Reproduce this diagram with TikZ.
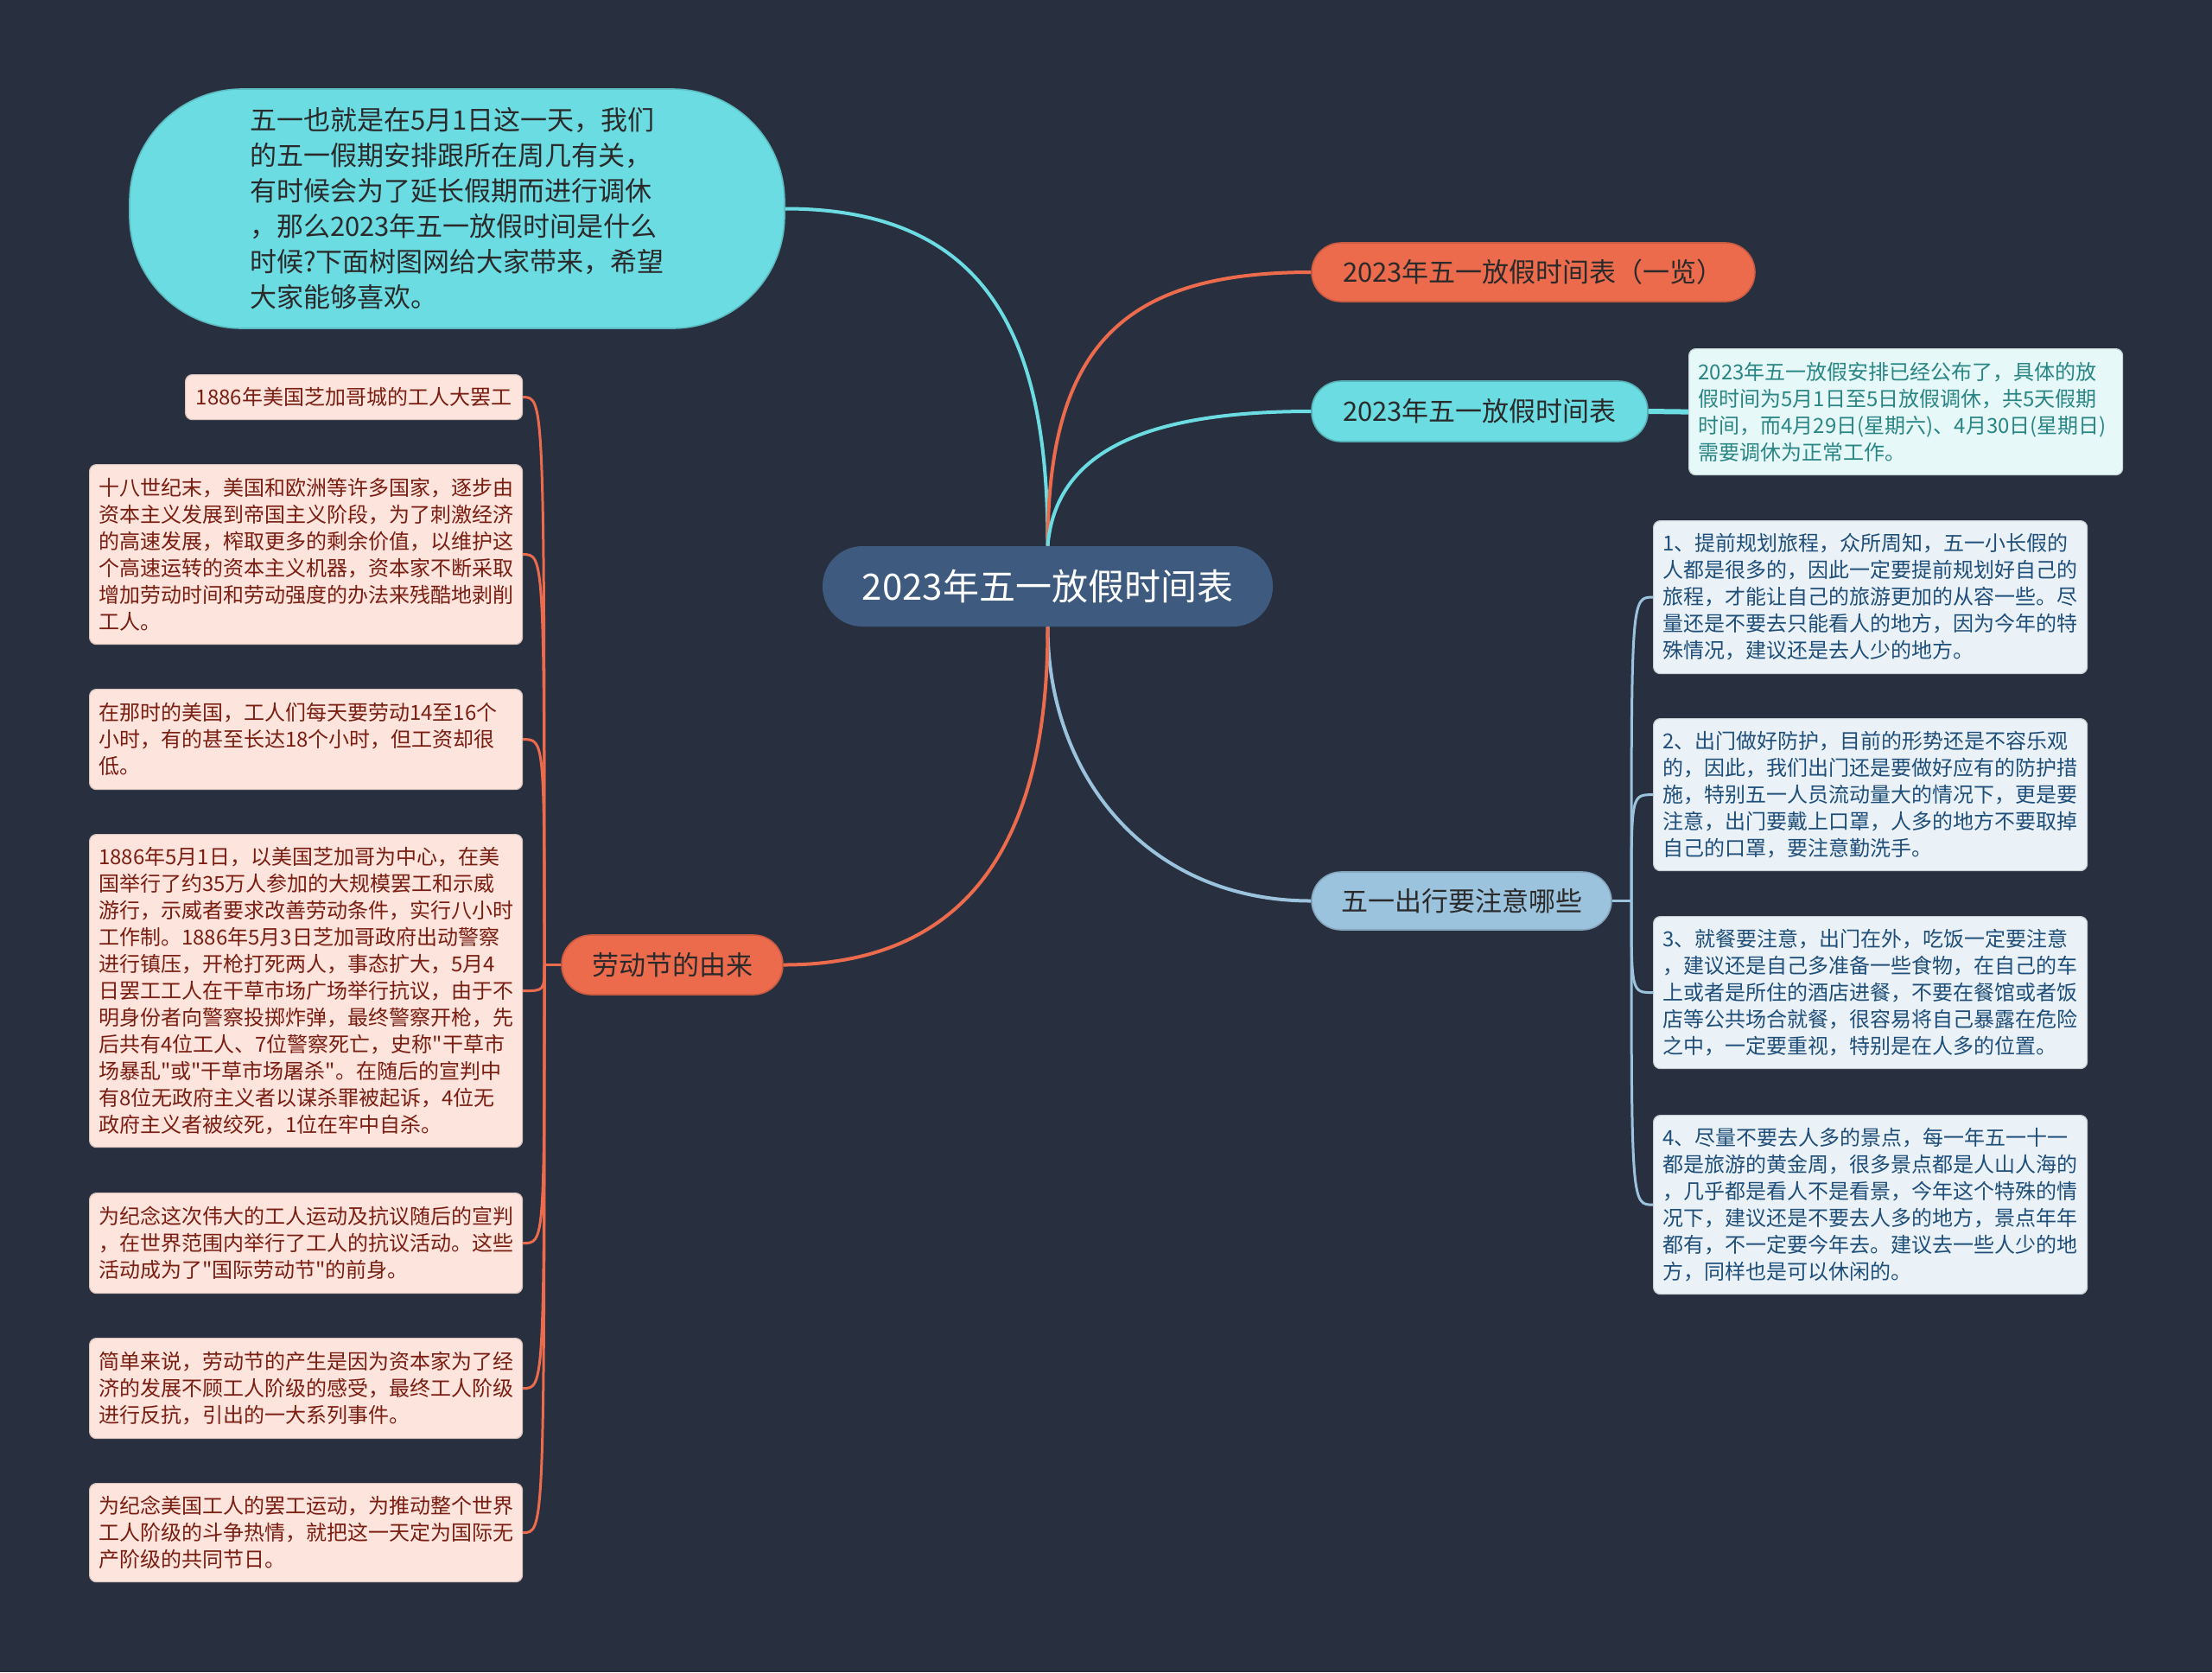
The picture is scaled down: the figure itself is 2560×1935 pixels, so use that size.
\documentclass[tikz,border=0pt]{standalone}
\usepackage{fontspec}
\setmainfont{Noto Sans CJK SC}[Ligatures=TeXOff]
\definecolor{bg}{HTML}{283040}
\definecolor{cnode}{HTML}{3E5A7E}
\definecolor{org}{HTML}{EC6B4D}
\definecolor{cyn}{HTML}{6CDCE3}
\definecolor{lbl}{HTML}{9CC3DD}
\definecolor{rfill}{HTML}{EAF2F8}
\definecolor{rtext}{HTML}{1F4E79}
\definecolor{ifill}{HTML}{E6F8F8}
\definecolor{itext}{HTML}{2A8585}
\definecolor{lfill}{HTML}{FDE4DD}
\definecolor{ltext}{HTML}{7A1E12}
\definecolor{dtext}{HTML}{2A2A2A}
\begin{document}
\begin{tikzpicture}[x=0.5pt,y=-0.5pt,
  centernode/.style={fill=cnode,text=white,rounded corners=23pt,minimum width=260.5pt,minimum height=46.5pt,inner sep=0pt,font=\fontsize{21}{25}\selectfont},
  pill/.style={rounded corners=17pt,inner sep=0pt,text=dtext,font=\fontsize{15.5}{19}\selectfont,line width=0.8pt},
  bubble/.style={fill=cyn,draw=cyn!85!black,line width=0.8pt,rounded corners=65pt,minimum width=379pt,minimum height=138.5pt,inner sep=0pt,align=left,text=dtext,font=\fontsize{15.5}{20.5}\selectfont},
  tbox/.style={anchor=north west,rounded corners=4pt,inner xsep=5.25pt,inner ysep=0pt,text width=240pt,align=left,font=\fontsize{12}{15.5}\selectfont,line width=0.6pt},
  lbox/.style={tbox,fill=lfill,draw=lfill!85!black,text=ltext},
  shortbox/.style={anchor=north west,rounded corners=4pt,inner sep=0pt,font=\fontsize{12}{15.5}\selectfont,line width=0.6pt,fill=lfill,draw=lfill!85!black,text=ltext},
  rbox/.style={tbox,inner xsep=5.5pt,fill=rfill,draw=rfill!85!black,text=rtext},
  ibox/.style={tbox,inner xsep=5.5pt,fill=ifill,draw=ifill!85!black,text=itext},
  mainlink/.style={line width=2pt},
  sublink/.style={line width=1.5pt}]
\fill[bg] (0,0) rectangle (2560,1935);
\useasboundingbox (0,0) rectangle (2560,1935);

% center
\node[centernode] (c) at (1212.5,678.5) {2023年五一放假时间表};

% intro bubble
\node[bubble] (intro) at (529,241.5) {五一也就是在5月1日这一天，我们\\的五一假期安排跟所在周几有关，\\有时候会为了延长假期而进行调休\\，那么2023年五一放假时间是什么\\时候?下面树图网给大家带来，希望\\大家能够喜欢。};

% right pills
\node[pill,fill=org,draw=org!85!black,minimum width=256.5pt,minimum height=34pt] (p1) at (1774.5,315) {2023年五一放假时间表（一览）};
\node[pill,fill=cyn,draw=cyn!80!black,minimum width=194.5pt,minimum height=35pt] (p2) at (1712.5,476) {2023年五一放假时间表};
\node[pill,fill=lbl,draw=lbl!85!black,minimum width=173.5pt,minimum height=33.5pt] (p3) at (1691.5,1042.5) {五一出行要注意哪些};
\node[pill,fill=org,draw=org!85!black,minimum width=128pt,minimum height=34.5pt] (lab) at (778,1116.5) {劳动节的由来};

% info box
\node[ibox,minimum height=73pt] (info) at (1954,403) {2023年五一放假安排已经公布了，具体的放\\假时间为5月1日至5日放假调休，共5天假期\\时间，而4月29日(星期六)、4月30日(星期日)\\需要调休为正常工作。};

% right boxes
\node[rbox,minimum height=88.5pt] (r1) at (1913,602) {1、提前规划旅程，众所周知，五一小长假的\\人都是很多的，因此一定要提前规划好自己的\\旅程，才能让自己的旅游更加的从容一些。尽\\量还是不要去只能看人的地方，因为今年的特\\殊情况，建议还是去人少的地方。};
\node[rbox,minimum height=88pt] (r2) at (1913,831) {2、出门做好防护，目前的形势还是不容乐观\\的，因此，我们出门还是要做好应有的防护措\\施，特别五一人员流动量大的情况下，更是要\\注意，出门要戴上口罩，人多的地方不要取掉\\自己的口罩，要注意勤洗手。};
\node[rbox,minimum height=88pt] (r3) at (1913,1060) {3、就餐要注意，出门在外，吃饭一定要注意\\，建议还是自己多准备一些食物，在自己的车\\上或者是所住的酒店进餐，不要在餐馆或者饭\\店等公共场合就餐，很容易将自己暴露在危险\\之中，一定要重视，特别是在人多的位置。};
\node[rbox,minimum height=103.5pt] (r4) at (1913,1290) {4、尽量不要去人多的景点，每一年五一十一\\都是旅游的黄金周，很多景点都是人山人海的\\，几乎都是看人不是看景，今年这个特殊的情\\况下，建议还是不要去人多的地方，景点年年\\都有，不一定要今年去。建议去一些人少的地\\方，同样也是可以休闲的。};

% left boxes
\node[shortbox,minimum width=195pt,minimum height=26pt] (la) at (214,433) {1886年美国芝加哥城的工人大罢工};
\node[lbox,minimum height=104pt] (lb) at (103,537) {十八世纪末，美国和欧洲等许多国家，逐步由\\资本主义发展到帝国主义阶段，为了刺激经济\\的高速发展，榨取更多的剩余价值，以维护这\\个高速运转的资本主义机器，资本家不断采取\\增加劳动时间和劳动强度的办法来残酷地剥削\\工人。};
\node[lbox,minimum height=58pt] (lc) at (103,797) {在那时的美国，工人们每天要劳动14至16个\\小时，有的甚至长达18个小时，但工资却很\\低。};
\node[lbox,minimum height=181pt] (ld) at (103,965) {1886年5月1日，以美国芝加哥为中心，在美\\国举行了约35万人参加的大规模罢工和示威\\游行，示威者要求改善劳动条件，实行八小时\\工作制。1886年5月3日芝加哥政府出动警察\\进行镇压，开枪打死两人，事态扩大，5月4\\日罢工工人在干草市场广场举行抗议，由于不\\明身份者向警察投掷炸弹，最终警察开枪，先\\后共有4位工人、7位警察死亡，史称"干草市\\场暴乱"或"干草市场屠杀"。在随后的宣判中\\有8位无政府主义者以谋杀罪被起诉，4位无\\政府主义者被绞死，1位在牢中自杀。};
\node[lbox,minimum height=58pt] (le) at (103,1380) {为纪念这次伟大的工人运动及抗议随后的宣判\\，在世界范围内举行了工人的抗议活动。这些\\活动成为了"国际劳动节"的前身。};
\node[lbox,minimum height=58pt] (lf) at (103,1548) {简单来说，劳动节的产生是因为资本家为了经\\济的发展不顾工人阶级的感受，最终工人阶级\\进行反抗，引出的一大系列事件。};
\node[lbox,minimum height=57pt] (lg) at (103,1716) {为纪念美国工人的罢工运动，为推动整个世界\\工人阶级的斗争热情，就把这一天定为国际无\\产阶级的共同节日。};

% main connectors
\draw[cyn,mainlink] (c.north) .. controls (1213,400) and (1150,241.5) .. (intro.east);
\draw[org,mainlink] (c.north) .. controls (1213,400) and (1300,315) .. (p1.west);
\draw[cyn,mainlink] (c.north) .. controls (1222,520) and (1330,476) .. (p2.west);
\draw[lbl,mainlink] (c.south) .. controls (1213,900) and (1330,1042.5) .. (p3.west);
\draw[org,mainlink] (c.south) .. controls (1213,1000) and (1100,1116.5) .. (lab.east);
\draw[cyn,line width=3pt] (p2.east) -- (info.west);

% left sub connectors
\coordinate (lt) at (630,1116.5);
\draw[org,sublink] (lab.west) -- (lt);
\foreach \b in {la,lb,lc,ld,le,lf,lg}
  \draw[org,sublink] (lt) .. controls (lt |- \b.east) .. (\b.east);

% right sub connectors
\coordinate (rt) at (1888,1042.5);
\draw[lbl,sublink] (p3.east) -- (rt);
\foreach \b in {r1,r2,r3,r4}
  \draw[lbl,sublink] (rt) .. controls (rt |- \b.west) .. (\b.west);
\end{tikzpicture}
\end{document}
